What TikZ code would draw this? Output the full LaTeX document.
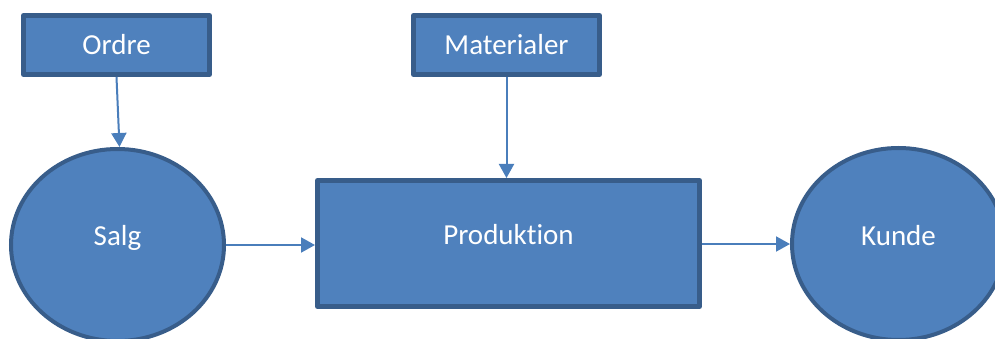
\documentclass[tikz,border=0pt]{standalone}
\usepackage{fontspec}
\setmainfont{Carlito}[Ligatures=NoCommon]
\usetikzlibrary{shapes.geometric,arrows.meta}
\definecolor{fillblue}{HTML}{4F81BD}
\definecolor{edgeblue}{HTML}{385D8A}
\definecolor{arrowblue}{HTML}{4A7EBB}
\begin{document}
\begin{tikzpicture}[x=1pt,y=-1pt,
  txt/.style={text=white, font=\fontsize{29}{34}\selectfont, text height=20pt, text depth=5pt, inner sep=0pt},
  boxnode/.style={rectangle, draw=edgeblue, fill=fillblue, line width=5pt, line join=round, inner sep=0pt},
  ellnode/.style={ellipse, draw=edgeblue, fill=fillblue, line width=4pt, inner sep=0pt, minimum width=213pt, minimum height=192pt},
  arr/.style={draw=arrowblue, line width=2pt, -{Triangle[length=14pt,width=15pt]}}
]
\useasboundingbox (0,0) rectangle (995,339);
\fill[white] (0,0) rectangle (995,339);

\node[boxnode, minimum width=186pt, minimum height=59pt,
      label={[txt, yshift=-2.5pt]center:Ordre}] (ordre) at (116.5,45) {};
\node[boxnode, minimum width=186pt, minimum height=59pt,
      label={[txt, yshift=-2pt]center:Materialer}] (mat) at (506.5,45) {};
\node[boxnode, minimum width=382pt, minimum height=126pt,
      label={[txt, yshift=6.5pt]center:Produktion}] (prod) at (508.5,243.5) {};
\node[ellnode, label={[txt, yshift=7pt]center:Salg}] (salg) at (117.5,245) {};
\node[ellnode, label={[txt, yshift=6.5pt]center:Kunde}] (kunde) at (898.5,244) {};

\draw[arr] (ordre.south) -- ([xshift=2pt]salg.north);
\draw[arr] (mat.south) -- (mat.south |- prod.north);
\draw[arr] (salg.east) -- (salg.east -| prod.west);
\draw[arr] (kunde.west -| prod.east) -- (kunde.west);
\end{tikzpicture}
\end{document}
